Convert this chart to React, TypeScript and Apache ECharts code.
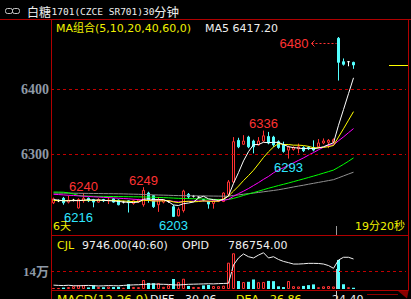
import React, { useEffect, useRef } from 'react';
import * as echarts from 'echarts';

// [open, close, low, high] — 30-minute bars
const ohlc: number[][] = [
  [6225, 6231, 6223, 6233], [6228, 6228, 6226, 6230], [6232, 6225, 6222, 6234], [6226, 6229, 6224, 6236],
  [6229, 6229, 6227, 6231], [6217, 6230, 6216, 6232], [6228, 6232, 6225, 6240], [6232, 6228, 6226, 6233],
  [6230, 6226, 6218, 6231], [6226, 6230, 6225, 6232], [6230, 6228, 6226, 6231], [6228, 6229, 6223, 6234],
  [6231, 6226, 6225, 6232], [6229, 6222, 6221, 6230], [6226, 6226, 6224, 6228], [6228, 6225, 6210, 6229],
  [6224, 6228, 6222, 6230], [6226, 6229, 6225, 6231], [6222, 6244, 6219, 6249], [6240, 6229, 6225, 6242],
  [6236, 6219, 6217, 6237], [6222, 6229, 6211, 6234], [6226, 6229, 6224, 6230], [6227, 6227, 6225, 6228],
  [6219, 6204, 6203, 6222], [6205, 6215, 6204, 6218], [6213, 6243, 6210, 6245], [6238, 6234, 6231, 6240],
  [6235, 6235, 6233, 6237], [6234, 6234, 6232, 6235], [6230, 6229, 6227, 6231], [6227, 6223, 6216, 6228],
  [6224, 6228, 6216, 6230], [6227, 6230, 6226, 6231], [6227, 6240, 6226, 6241], [6238, 6257, 6236, 6260],
  [6257, 6319, 6255, 6326], [6321, 6311, 6309, 6325], [6315, 6320, 6314, 6329], [6326, 6311, 6309, 6328],
  [6320, 6311, 6301, 6322], [6314, 6320, 6313, 6326], [6320, 6328, 6318, 6336], [6327, 6317, 6315, 6334],
  [6326, 6314, 6311, 6328], [6319, 6310, 6308, 6321], [6314, 6304, 6302, 6319], [6306, 6311, 6293, 6313],
  [6307, 6310, 6305, 6312], [6308, 6311, 6301, 6316], [6310, 6305, 6303, 6312], [6310, 6308, 6306, 6312],
  [6310, 6306, 6304, 6321], [6311, 6317, 6309, 6323], [6317, 6320, 6315, 6324], [6318, 6321, 6309, 6323],
  [6318, 6322, 6316, 6324], [6478, 6441, 6413, 6480], [6442, 6438, 6436, 6447], [6442, 6442, 6435, 6442],
  [6441, 6437, 6431, 6442],
];

const ma5 = [
  6230, 6229, 6228, 6228, 6228.4, 6228.2, 6229, 6229.6, 6229, 6229.2,
  6228.8, 6228.2, 6227.8, 6227, 6226.2, 6225.6, 6225.4, 6226, 6230.4, 6231,
  6229.8, 6230, 6230, 6226.6, 6221.6, 6220.8, 6223.6, 6224.6, 6226.2, 6232.2,
  6235, 6231, 6229.8, 6228.8, 6230, 6235.6, 6254.8, 6271.4, 6289.4, 6303.6,
  6314.4, 6314.6, 6318, 6317.4, 6318, 6317.8, 6314.6, 6311.2, 6309.8, 6309.2,
  6308.2, 6309, 6308, 6309.4, 6311.2, 6314.4, 6317.2, 6344.2, 6368.4, 6392.8,
  6417.2,
];
const ma10 = [
  6228.5, 6228.4, 6228.3, 6228.4, 6228.6, 6228.5, 6228.7, 6228.9, 6228.6, 6228.8,
  6228.5, 6228.6, 6228.7, 6228.0, 6227.7, 6227.2, 6226.8, 6226.9, 6228.7, 6228.6,
  6227.7, 6227.7, 6228.0, 6228.5, 6226.3, 6225.3, 6226.8, 6227.3, 6226.4, 6226.9,
  6227.9, 6227.3, 6227.2, 6227.5, 6231.1, 6235.3, 6242.9, 6250.6, 6259.1, 6266.8,
  6275.0, 6284.7, 6294.7, 6303.4, 6310.8, 6316.1, 6314.6, 6314.6, 6313.6, 6313.6,
  6313.0, 6311.8, 6309.6, 6309.6, 6310.2, 6311.3, 6313.1, 6326.1, 6338.9, 6352.0,
  6365.2,
];
const ma20 = [
  6238, 6237.6, 6237.1, 6236.5, 6236.2, 6235.6, 6235.1, 6234.7, 6234.2, 6233.8,
  6233.3, 6232.9, 6232.4, 6232.0, 6231.5, 6231.1, 6230.4, 6229.9, 6229.5, 6228.7,
  6228.1, 6228.2, 6228.4, 6228.3, 6227.0, 6226.3, 6226.8, 6227.1, 6227.6, 6227.8,
  6227.8, 6227.5, 6227.6, 6228.0, 6228.7, 6230.3, 6234.9, 6239.0, 6242.8, 6246.9,
  6251.5, 6256.0, 6261.0, 6265.5, 6271.0, 6275.7, 6278.8, 6282.6, 6286.4, 6290.2,
  6294.0, 6298.3, 6302.2, 6306.5, 6310.5, 6313.7, 6313.9, 6320.4, 6326.3, 6332.8,
  6339.1,
];
const ma40 = [
  6241.5, 6241.4, 6241.2, 6240.2, 6238.5, 6236.2, 6235.4, 6235.2, 6235.0, 6234.9,
  6234.8, 6234.7, 6234.6, 6234.5, 6234.4, 6234.3, 6234.2, 6234.1, 6234.0, 6233.8,
  6233.5, 6233.2, 6232.9, 6232.6, 6232.2, 6231.8, 6231.6, 6231.4, 6231.2, 6231.0,
  6230.8, 6230.5, 6230.2, 6230.0, 6229.8, 6230.0, 6231.8, 6233.9, 6236.3, 6238.5,
  6240.5, 6242.8, 6245.1, 6247.3, 6249.4, 6251.5, 6253.4, 6255.4, 6257.5, 6259.6,
  6261.7, 6263.9, 6266.0, 6268.3, 6270.6, 6272.9, 6275.3, 6279.6, 6284.1, 6288.9,
  6294.0,
];
const ma60 = [
  6240.0, 6239.9, 6239.8, 6239.8, 6239.7, 6239.6, 6239.5, 6239.4, 6239.3, 6239.2,
  6239.1, 6239.0, 6238.9, 6238.8, 6238.6, 6238.4, 6238.2, 6238.0, 6237.7, 6237.4,
  6237.1, 6236.9, 6236.7, 6236.5, 6236.2, 6236.0, 6235.9, 6235.8, 6235.7, 6235.6,
  6235.5, 6235.4, 6235.3, 6235.2, 6235.1, 6235.2, 6236.2, 6237.1, 6238.1, 6239.0,
  6239.9, 6240.9, 6241.9, 6242.9, 6243.9, 6245.0, 6246.4, 6247.8, 6249.3, 6250.7,
  6252.0, 6253.5, 6254.9, 6256.3, 6257.7, 6259.1, 6260.5, 6263.4, 6266.3, 6269.2,
  6272.0,
];

const volume = [
  8000, 7000, 11000, 15000, 22000, 31000, 30000, 12000, 29000, 16000,
  14000, 19000, 15000, 17000, 9000, 38000, 16000, 14000, 70000, 47000,
  45000, 46000, 17000, 30000, 78000, 55000, 80000, 24000, 16000, 15000,
  28000, 31000, 23000, 22000, 26000, 205000, 278000, 62000, 54000, 56000,
  74000, 53000, 55000, 63000, 61000, 21000, 15000, 62000, 22000, 20000,
  24000, 30000, 36000, 14000, 21000, 23000, 20000, 226000, 37000, 14000,
  9746,
];
const openInterest = [
  767800, 767600, 767500, 767700, 767400, 767300, 767500, 767600, 767400, 767200,
  767300, 767500, 767400, 767300, 767600, 767800, 768000, 768100, 768300, 768500,
  768600, 768500, 768400, 768300, 768000, 767900, 768200, 768400, 768500, 768600,
  768700, 768800, 768700, 768900, 769000, 769200, 782400, 787500, 790400, 788400,
  787500, 789600, 791300, 787500, 788400, 786400, 785000, 784100, 783100, 783100,
  783300, 783600, 783600, 783500, 783100, 782000, 780000, 786000, 788000, 788000,
  786754,
];

const slotCount = 71;
const slots = Array.from({ length: slotCount }, (_, k) => String(k + 1));
const highLabelIdx = [6, 18, 42];
const lowLabelIdx = [5, 24, 47];
const peakIdx = 57;
const dayBreakAfter = 56;
const priceGridValues = [6300, 6400];
const volGridValue = 140000;
const volGridLabel = '14万';
const macdDiff = 30.06;
const macdDea = 26.86;
const macdVal = 24.4;

const RED = '#ff3232';
const CYAN = '#54ffff';
const LABEL_CYAN = '#2ee6ff';
const YEL = '#f0f000';
const AXIS_RED = '#b00000';
const GRID_RED = '#c00000';
const GRAY = '#8e99a6';
const WHITE = '#eeeeee';
const FONT = '"DejaVu Sans", "Noto Sans CJK SC", sans-serif';

function txt(x: number, y: number, text: string, fill: string, fontSize = 11, extra: any = {}) {
  return {
    type: 'text', x, y, silent: true,
    style: { text, fill, fontSize, fontFamily: FONT, align: 'left', verticalAlign: 'middle', ...extra },
  };
}
function ln(x1: number, y1: number, x2: number, y2: number, stroke: string, extra: any = {}) {
  return { type: 'line', silent: true, shape: { x1, y1, x2, y2 }, style: { stroke, lineWidth: 1, ...extra } };
}

export default function App() {
  const ref = useRef<HTMLDivElement>(null);
  useEffect(() => {
    document.body.style.margin = '0';
    const chart = echarts.init(ref.current!, null, { renderer: 'svg' });
    const isUp = (i: number) => ohlc[i][1] >= ohlc[i][0];
    const maLine = (data: number[], color: string) => ({
      type: 'line', xAxisIndex: 0, yAxisIndex: 0, data, symbol: 'none', silent: true,
      lineStyle: { color, width: 1 }, itemStyle: { color },
    });
    chart.setOption({
      animation: false,
      backgroundColor: '#000000',
      grid: [
        { left: 51, top: 19, width: 355, height: 216 },
        { left: 51, top: 250, width: 355, height: 39 },
      ],
      xAxis: [
        { type: 'category', data: slots, gridIndex: 0, show: false },
        { type: 'category', data: slots, gridIndex: 1, show: false },
      ],
      yAxis: [
        { type: 'value', gridIndex: 0, min: 6175.4, max: 6507.7, show: false, splitLine: { show: false } },
        { type: 'value', gridIndex: 1, min: 0, max: 303333, show: false, splitLine: { show: false } },
        { type: 'value', gridIndex: 1, min: 765000, max: 793275, show: false, splitLine: { show: false } },
      ],
      series: [
        {
          type: 'candlestick', xAxisIndex: 0, yAxisIndex: 0, data: ohlc, barWidth: 3, silent: true,
          itemStyle: {
            color: '#000000', color0: CYAN, borderColor: RED, borderColor0: CYAN,
            borderColorDoji: '#ffffff', borderWidth: 1,
          },
          markPoint: {
            symbol: 'circle', symbolSize: 1, silent: true,
            itemStyle: { color: 'rgba(0,0,0,0)' },
            label: { show: true, fontFamily: 'Liberation Sans', fontSize: 13, formatter: (p: any) => String(p.value) },
            data: [
              ...highLabelIdx.map((i) => ({
                coord: [i, ohlc[i][3]], value: ohlc[i][3],
                label: { position: 'top', distance: 0, color: RED },
              })),
              ...lowLabelIdx.map((i) => ({
                coord: [i, ohlc[i][2]], value: ohlc[i][2],
                label: { position: 'bottom', distance: 1.5, color: LABEL_CYAN },
              })),
            ],
          },
          markLine: {
            silent: true, symbol: 'none',
            lineStyle: { color: GRID_RED, type: [3, 3], width: 1 },
            label: {
              show: true, position: 'start', distance: 2, color: GRAY,
              fontFamily: 'Liberation Serif', fontWeight: 'bold', fontSize: 14,
              formatter: (p: any) => String(p.value),
            },
            data: priceGridValues.map((v) => ({ yAxis: v })),
          },
        },
        maLine(ma60, '#909090'),
        maLine(ma40, '#00ff00'),
        maLine(ma20, '#ff00ff'),
        maLine(ma10, '#ffff00'),
        maLine(ma5, '#ffffff'),
        {
          type: 'bar', xAxisIndex: 1, yAxisIndex: 1, barWidth: 3, silent: true,
          data: volume.map((v, i) => ({
            value: v,
            itemStyle: isUp(i)
              ? { color: '#000000', borderColor: RED, borderWidth: 1 }
              : { color: CYAN, borderColor: CYAN, borderWidth: 0 },
          })),
          markLine: {
            silent: true, symbol: 'none',
            lineStyle: { color: GRID_RED, type: [3, 3], width: 1 },
            label: {
              show: true, position: 'start', distance: 2, color: GRAY,
              fontFamily: 'Liberation Serif, Noto Sans CJK SC', fontWeight: 'bold', fontSize: 13,
              formatter: volGridLabel,
            },
            data: [{ yAxis: volGridValue }],
          },
        },
        {
          type: 'line', xAxisIndex: 1, yAxisIndex: 2, data: openInterest, symbol: 'none', silent: true,
          lineStyle: { color: '#f0f0f0', width: 1 }, itemStyle: { color: '#f0f0f0' },
        },
      ],
    });

    const px = chart.convertToPixel({ xAxisIndex: 0 }, peakIdx) as number;
    const py = chart.convertToPixel({ yAxisIndex: 0 }, ohlc[peakIdx][3]) as number;
    const ay = Math.round(py + 6) + 0.5;
    const last = ohlc[ohlc.length - 1][1];
    const ly = Math.round(chart.convertToPixel({ yAxisIndex: 0 }, last) as number) + 0.5;
    const sepA = chart.convertToPixel({ xAxisIndex: 0 }, dayBreakAfter) as number;
    const sepB = chart.convertToPixel({ xAxisIndex: 0 }, dayBreakAfter + 1) as number;
    const sx = Math.round((sepA + sepB) / 2) + 0.5;

    const elements: any[] = [
      // icon
      { type: 'rect', silent: true, shape: { x: 5.5, y: 8.5, width: 7, height: 5, r: 2 }, style: { fill: 'none', stroke: '#c8c8c8', lineWidth: 1 } },
      { type: 'rect', silent: true, shape: { x: 12.5, y: 8.5, width: 7, height: 5, r: 2 }, style: { fill: 'none', stroke: '#c8c8c8', lineWidth: 1 } },
      // title
      txt(27, 11, '白糖', WHITE, 12, { fontFamily: '"Noto Sans CJK SC"' }),
      txt(51.5, 11, '1701(CZCE SR701)30', WHITE, 9.5, { fontFamily: '"DejaVu Sans Mono"' }),
      txt(154, 11, '分钟', WHITE, 12.5, { fontFamily: '"Noto Sans CJK SC"' }),
      // MA header
      txt(56, 28, 'MA组合(5,10,20,40,60,0)', YEL, 11),
      txt(205, 28, `MA5 ${ma5[ma5.length - 1].toFixed(2)}`, WHITE, 11),
      // borders
      ln(0, 19.5, 411, 19.5, AXIS_RED),
      ln(51.5, 19.5, 51.5, 299, AXIS_RED),
      ln(408.5, 19.5, 408.5, 290.5, AXIS_RED),
      ln(51.5, 235.5, 408.5, 235.5, AXIS_RED),
      ln(51.5, 290.5, 408.5, 290.5, AXIS_RED),
      ln(367, 294.5, 398, 294.5, '#900000'),
      { type: 'polygon', silent: true, shape: { points: [[398, 291], [408.5, 291], [407, 298.5]] }, style: { fill: '#8a0000' } },
      // bottom texts of price panel
      txt(53, 226.5, '6天', YEL, 11),
      txt(355, 226.5, '19分20秒', YEL, 11),
      // volume header
      txt(57, 245, 'CJL', YEL, 11),
      txt(82, 245, `${volume[volume.length - 1].toFixed(2)}(40:60)`, WHITE, 11),
      txt(182, 245, 'OPID', WHITE, 11),
      txt(228, 245, openInterest[openInterest.length - 1].toFixed(2), WHITE, 11),
      // MACD header (cut off by the window edge, as in the source)
      txt(57, 299.5, 'MACD(12,26,9)', YEL, 12),
      txt(150, 299.5, 'DIFF', WHITE, 11),
      txt(185, 299.5, macdDiff.toFixed(2), WHITE, 11),
      txt(236, 299.5, 'DEA', YEL, 11),
      txt(270, 299.5, macdDea.toFixed(2), YEL, 11),
      txt(332, 299.5, macdVal.toFixed(2), WHITE, 11),
      // day separator
      ln(sx, 226, sx, 235, '#9a9a9a'),
      ln(sx, 269, sx, 289, '#c8c8c8'),
      ln(sx, 291, sx, 299, '#c8c8c8'),
      // peak arrow
      ln(px - 27, ay, px - 2, ay, RED, { lineDash: [2, 2] }),
      { type: 'polyline', silent: true, shape: { points: [[px - 24, ay - 3], [px - 27, ay], [px - 24, ay + 3]] }, style: { stroke: RED, fill: 'none', lineWidth: 1 } },
      txt(px - 30, ay, String(ohlc[peakIdx][3]), RED, 13, { fontFamily: '"Liberation Sans"', align: 'right' }),
      // last price marker
      ln(389, ly, 408, ly, '#ffff00'),
    ];
    chart.setOption({ graphic: elements });
    return () => chart.dispose();
  }, []);
  return (
    <div
      ref={ref}
      style={{ position: 'fixed', left: 0, top: 0, width: 411, height: 299, background: '#000' }}
    />
  );
}
